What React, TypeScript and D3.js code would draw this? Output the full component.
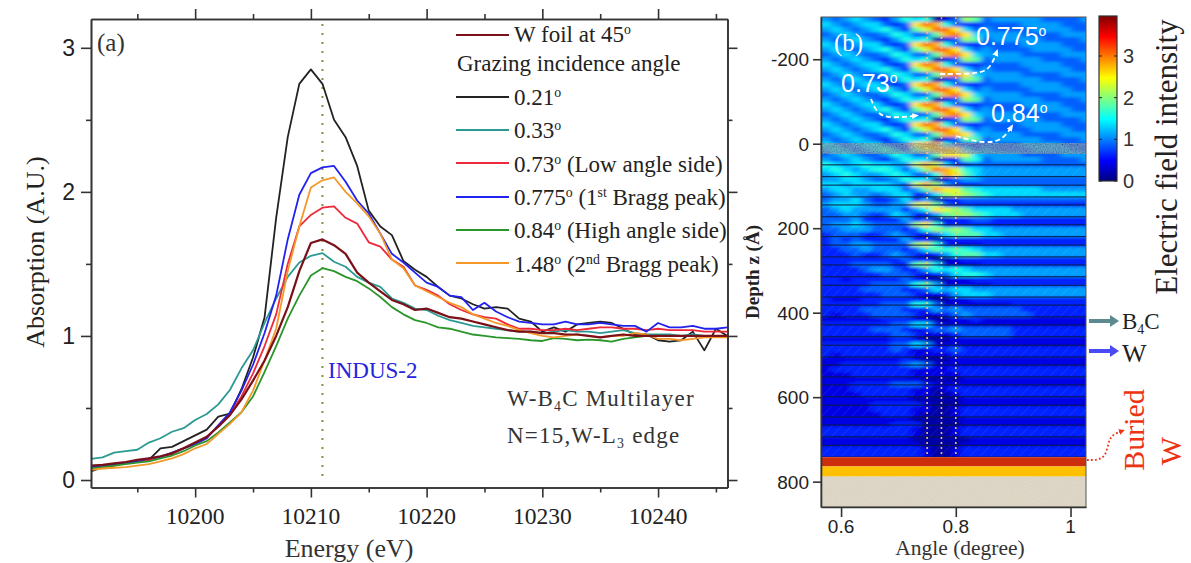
import React, { useEffect, useRef } from 'react';
import * as d3 from 'd3';

// energy grid, 10191 .. 10246 eV in 1 eV steps
const energies = [
  10191, 10192, 10193, 10194, 10195, 10196, 10197, 10198, 10199, 10200, 10201, 10202, 10203, 10204,
  10205, 10206, 10207, 10208, 10209, 10210, 10211, 10212, 10213, 10214, 10215, 10216, 10217, 10218,
  10219, 10220, 10221, 10222, 10223, 10224, 10225, 10226, 10227, 10228, 10229, 10230, 10231, 10232,
  10233, 10234, 10235, 10236, 10237, 10238, 10239, 10240, 10241, 10242, 10243, 10244, 10245, 10246,
];

const angle021 = [
  0.06, 0.09, 0.1, 0.12, 0.13, 0.14, 0.22, 0.23, 0.27, 0.31, 0.35, 0.44, 0.46, 0.63,
  0.85, 1.13, 1.82, 2.38, 2.75, 2.85, 2.75, 2.5, 2.38, 2.18, 1.87, 1.76, 1.7, 1.52,
  1.46, 1.41, 1.34, 1.28, 1.26, 1.22, 1.19, 1.2, 1.19, 1.12, 1.1, 1.03, 1.06, 1.03,
  1.08, 1.09, 1.1, 1.09, 1.05, 1.01, 1.01, 0.97, 0.96, 0.97, 1.03, 0.9, 1.05, 1.0,
];
const angle033 = [
  0.146, 0.157, 0.19, 0.2, 0.21, 0.26, 0.29, 0.335, 0.36, 0.417, 0.458, 0.525, 0.625, 0.775,
  0.9, 1.09, 1.26, 1.41, 1.51, 1.556, 1.575, 1.515, 1.48, 1.41, 1.37, 1.34, 1.26, 1.23,
  1.19, 1.18, 1.14, 1.11, 1.09, 1.07, 1.06, 1.05, 1.04, 1.03, 1.03, 1.02, 1.03, 1.04,
  1.03, 1.03, 1.02, 1.03, 1.04, 1.02, 1.01, 1.01, 1.01, 1.0, 1.01, 1.0, 1.0, 1.0,
];
const angle073 = [
  0.09, 0.1, 0.11, 0.12, 0.13, 0.14, 0.16, 0.18, 0.22, 0.25, 0.29, 0.38, 0.46, 0.58,
  0.74, 0.93, 1.15, 1.5, 1.76, 1.84, 1.89, 1.9, 1.82, 1.78, 1.65, 1.62, 1.53, 1.48,
  1.35, 1.32, 1.28, 1.22, 1.18, 1.15, 1.13, 1.12, 1.08, 1.05, 1.05, 1.04, 1.04, 1.05,
  1.04, 1.05, 1.06, 1.06, 1.05, 1.05, 1.04, 1.05, 1.04, 1.04, 1.04, 1.03, 1.03, 1.03,
];
const angle0775 = [
  0.09, 0.1, 0.11, 0.12, 0.13, 0.15, 0.16, 0.19, 0.22, 0.25, 0.29, 0.38, 0.47, 0.62,
  0.8, 1.02, 1.28, 1.67, 1.98, 2.13, 2.17, 2.18, 2.07, 1.94, 1.85, 1.71, 1.57, 1.51,
  1.44, 1.37, 1.34, 1.28, 1.27, 1.18, 1.23, 1.17, 1.13, 1.1, 1.09, 1.08, 1.08, 1.1,
  1.08, 1.08, 1.09, 1.08, 1.07, 1.07, 1.03, 1.09, 1.06, 1.06, 1.07, 1.05, 1.05, 1.06,
];
const angle084 = [
  0.08, 0.09, 0.1, 0.11, 0.12, 0.13, 0.15, 0.17, 0.2, 0.24, 0.27, 0.33, 0.4, 0.47,
  0.58, 0.75, 0.93, 1.12, 1.28, 1.42, 1.47, 1.45, 1.41, 1.38, 1.33, 1.27, 1.2, 1.15,
  1.11, 1.09, 1.06, 1.05, 1.03, 1.01, 1.0, 0.99, 0.985, 0.98, 0.97, 0.965, 0.985, 0.98,
  0.97, 0.975, 0.97, 0.96, 0.98, 0.99, 1.0, 1.0, 1.0, 1.0, 1.0, 1.0, 1.0, 1.0,
];
const angle148 = [
  0.07, 0.08, 0.085, 0.09, 0.1, 0.11, 0.13, 0.15, 0.18, 0.22, 0.25, 0.32, 0.39, 0.47,
  0.62, 0.83, 1.05, 1.45, 1.76, 2.03, 2.08, 2.1, 2.0, 1.92, 1.83, 1.71, 1.53, 1.47,
  1.35, 1.31, 1.27, 1.23, 1.2, 1.15, 1.12, 1.09, 1.07, 1.04, 1.02, 1.0, 0.99, 1.0,
  1.01, 1.0, 0.99, 1.0, 1.0, 1.02, 1.01, 0.98, 0.98, 0.97, 0.98, 0.99, 0.99, 0.99,
];
const tungstenFoil = [
  0.1, 0.105, 0.115, 0.125, 0.14, 0.15, 0.165, 0.185, 0.22, 0.26, 0.3, 0.37, 0.45, 0.56,
  0.69, 0.83, 1.0, 1.2, 1.45, 1.645, 1.67, 1.63, 1.57, 1.44, 1.37, 1.31, 1.25, 1.22,
  1.18, 1.19, 1.16, 1.13, 1.12, 1.1, 1.08, 1.06, 1.04, 1.03, 1.03, 1.02, 1.02, 1.01,
  1.01, 1.0, 0.99, 1.0, 1.01, 1.0, 1.0, 1.0, 1.0, 1.0, 1.0, 1.0, 1.0, 1.0,
];

const seriesColors = ['#222222', '#2a9a92', '#ee2a3a', '#2222ee', '#2a962a', '#f4982a', '#7a1018'];

// field intensity, one hex digit per cell (0.15 + digit x 0.24), rows from the top of the map
const fieldRows = [
  '434543246 5601387 34444433334', '543455323 acb6322 33334444333', '454345642 79cca53 43333444433', '345433465 337bca5 44443333444',
  '434543246 5601387 34444433334', '543455323 acb6322 33334444333', '454345642 79cca53 43333444433', '345433465 337bca5 44443333444',
  '434543246 5601387 34444433334', '543455323 acb6322 33334444333', '454345642 79cca53 43333444433', '345433465 337bca5 44443333444',
  '434543246 5601387 34444433334', '543455323 acb6322 33334444333', '454345642 79cca53 43333444433', '345433465 337bca5 44443333444',
  '434543246 5601387 34444433334', '543455323 acb6322 33334444333', '454345642 79cca53 43333444433', '345433465 337bca5 44443333444',
  '434543246 5601387 34444433334', '543455323 acb6322 33334444333', '454345642 79cca53 43333444433', '345433465 337bba5 44443333444',
  '434543246 5601377 34444433334', '543455323 abb6322 33334444333', '454345642 79bba53 43333444433', '345433465 337aa95 44443333444',
  '434543246 5501276 34444433334',
  '654565544 9b95223 33333333333', '565456653 58cb965 44444444444', '456544565 336ba75 44444444444', '445543346 5501344 33333333333',
  '554555543 9b84222 33333333333', '455445553 47ba976 55555544444', '345443455 2258987 65555555555', '344532235 2401233 33333333333',
  '455543344 9a73222 22222222222', '345444442 46a9875 55544444444', '334432354 2147887 65554444444', '333422224 2301223 32222222222',
  '344543333 8a62222 22222222222', '334443332 3687875 54444444444', '233322343 2135777 55444444444', '232322224 2201222 22222222222',
  '233443333 8962111 22222222222', '223343332 3576765 44444444444', '222322343 2124677 55444444444', '222222223 2200122 22222222222',
  '222333322 7851111 22222222222', '222234432 2465654 44444444444', '222222333 2123566 54444444444', '221222223 2100112 22222222222',
  '222223333 6741111 12222222222', '222233332 2354554 44444444444', '222222333 2112455 54444444444', '211122222 2100112 22222222222',
  '222222333 6631111 11122222222', '222233332 2243433 33332222222', '212223333 2112343 33333222222', '111111222 1100112 11111111111',
  '222222233 5521111 11111111111', '222223332 1233433 33322222222', '222222233 2111233 33322222222', '111111122 1000111 11111111111',
  '222222233 5411111 11111111111', '222222232 1122322 22222222222', '212222222 1111222 22222222222', '111111112 1000111 11111111111',
  '112222223 4311111 11111111111', '122222222 1111222 22222222222', '111222222 1111122 22222222222', '111111111 1000011 11111111111',
  '111222233 3211111 11111111111', '111222222 1101222 22222222222', '111122222 1100122 22222222222', '111111111 0000011 11111111111',
  '111112222 2100011 11111111111', '111112222 1100122 22222222222', '111111222 1000122 22222222222', '111111111 0000011 11111111111',
  '111111122 2000011 11111111111', '222222222 1000122 22222222222', '222222222 1000122 22222222222', '111111111 0000001 11111111111',
  '111111111 1000011 11111111111', '222222222 2100122 22222222222', '222222222 2100122 22222222222',
];

// B4C layers, top depth in Angstrom; each one is 28 A thick
const b4cTops = [50, 98, 145, 192, 240, 287, 335, 382, 429, 477, 524, 571, 619, 666, 714];
const b4cThickness = 28;
const braggAngles = [0.75, 0.775, 0.8];
const jetStops = ['#00007f', '#0000ff', '#0080ff', '#00ffff', '#80ff80', '#ffff00', '#ff8000', '#ff0000', '#7f0000'];

const SERIF = '"Liberation Serif", serif';
const SANS = '"Liberation Sans", sans-serif';

function addText(sel: any, x: number, y: number, parts: [string, boolean?][], opts: any = {}) {
  // parts: [text, isSuperOrSubscript]; opts.sub moves the small parts down instead of up
  const t = sel.append('text')
    .attr('x', x).attr('y', y)
    .attr('font-family', opts.family || SERIF)
    .attr('font-size', opts.size || 20)
    .attr('fill', opts.fill || '#222')
    .attr('font-weight', opts.weight || 'normal')
    .attr('text-anchor', opts.anchor || 'start');
  if (opts.spacing) t.attr('letter-spacing', opts.spacing);
  if (opts.rotate) t.attr('transform', `rotate(-90 ${x} ${y})`);
  const shift = opts.sub ? 5 : -8;
  let prevSmall = false;
  parts.forEach(([s, small]) => {
    const sp = t.append('tspan').text(s);
    if (small) {
      sp.attr('font-size', (opts.size || 20) * 0.6).attr('dy', shift);
    } else if (prevSmall) {
      sp.attr('dy', -shift);
    }
    prevSmall = !!small;
  });
  return t;
}

const App = () => {
  const svgRef = useRef<SVGSVGElement>(null);

  useEffect(() => {
    const svg = d3.select(svgRef.current);
    svg.selectAll('*').remove();
    const defs = svg.append('defs');

    // ---- panel (a)
    const x = d3.scaleLinear().domain([10191, 10246]).range([91, 727.5]);
    const y = d3.scaleLinear().domain([-0.052, 3.2]).range([487.5, 19]);
    const a = svg.append('g');

    const line = d3.line<number>()
      .x((_, i) => x(energies[i]))
      .y(d => y(d));

    a.append('line')
      .attr('x1', x(10211)).attr('x2', x(10211))
      .attr('y1', 24).attr('y2', 477)
      .attr('stroke', '#8c8c40').attr('stroke-width', 2).attr('stroke-dasharray', '2 7');

    [angle021, angle033, angle073, angle0775, angle084, angle148, tungstenFoil].forEach((vals, i) => {
      a.append('path')
        .attr('d', line(vals))
        .attr('fill', 'none')
        .attr('stroke', seriesColors[i])
        .attr('stroke-width', i === 6 ? 2.2 : 1.8)
        .attr('stroke-linejoin', 'round');
    });

    const majorX = [10200, 10210, 10220, 10230, 10240];
    const minorX = [10195, 10205, 10215, 10225, 10235, 10245];
    const majorY = [0, 1, 2, 3];
    const minorY = [0.5, 1.5, 2.5];
    const styleAxis = (g: any, color = '#333', w = 1.6) => {
      g.selectAll('path').attr('stroke', color).attr('stroke-width', w);
      g.selectAll('line').attr('stroke', color).attr('stroke-width', w);
      g.selectAll('text').remove();
    };
    const axisAt = (gen: any, tx: number, ty: number, root: any = a) => {
      const g = root.append('g').attr('transform', `translate(${tx},${ty})`).call(gen);
      styleAxis(g);
      return g;
    };
    axisAt(d3.axisBottom(x).tickValues(majorX).tickSize(10).tickSizeOuter(0), 0, 487.5);
    axisAt(d3.axisBottom(x).tickValues(minorX).tickSize(5).tickSizeOuter(0), 0, 487.5);
    axisAt(d3.axisTop(x).tickValues(majorX).tickSize(10).tickSizeOuter(0), 0, 19);
    axisAt(d3.axisTop(x).tickValues(minorX).tickSize(5).tickSizeOuter(0), 0, 19);
    axisAt(d3.axisLeft(y).tickValues(majorY).tickSize(10).tickSizeOuter(0), 91, 0);
    axisAt(d3.axisLeft(y).tickValues(minorY).tickSize(5).tickSizeOuter(0), 91, 0);
    axisAt(d3.axisRight(y).tickValues(majorY).tickSize(10).tickSizeOuter(0), 727.5, 0);
    axisAt(d3.axisRight(y).tickValues(minorY).tickSize(5).tickSizeOuter(0), 727.5, 0);

    majorX.forEach(v => {
      addText(a, x(v), 524, [[String(v)]], { size: 23.5, anchor: 'middle' });
    });
    majorY.forEach(v => {
      addText(a, 75, y(v) + 8, [[String(v)]], { size: 23, anchor: 'end', family: SANS });
    });
    addText(a, 349, 557, [['Energy (eV)']], { size: 26, anchor: 'middle', fill: '#333' });
    addText(a, 44, 252, [['Absorption (A.U.)']], { size: 26, anchor: 'middle', rotate: true });
    addText(a, 97, 51, [['(a)']], { size: 25, fill: '#333' });
    addText(a, 328, 378, [['INDUS-2']], { size: 23, fill: '#2525dd' });
    addText(a, 507, 406, [['W-B'], ['4', true], ['C Multilayer']], { size: 23, sub: true, spacing: 1.2, fill: '#333' });
    addText(a, 507, 443, [['N=15,W-L'], ['3', true], [' edge']], { size: 23, sub: true, spacing: 1.2, fill: '#333' });

    // legend
    const legendRows: { c: string; ly: number; base: number; parts: [string, boolean?][] }[] = [
      { c: seriesColors[6], ly: 35, base: 42, parts: [['W foil at 45'], ['o', true]] },
      { c: seriesColors[0], ly: 97, base: 105, parts: [['0.21'], ['o', true]] },
      { c: seriesColors[1], ly: 130, base: 138, parts: [['0.33'], ['o', true]] },
      { c: seriesColors[2], ly: 163, base: 172, parts: [['0.73'], ['o', true], [' (Low angle side)']] },
      { c: seriesColors[3], ly: 197, base: 205, parts: [['0.775'], ['o', true], [' (1'], ['st', true], [' Bragg peak)']] },
      { c: seriesColors[4], ly: 230, base: 238, parts: [['0.84'], ['o', true], [' (High angle side)']] },
      { c: seriesColors[5], ly: 263, base: 272, parts: [['1.48'], ['o', true], [' (2'], ['nd', true], [' Bragg peak)']] },
    ];
    legendRows.forEach(r => {
      a.append('line').attr('x1', 456).attr('x2', 509).attr('y1', r.ly).attr('y2', r.ly)
        .attr('stroke', r.c).attr('stroke-width', 1.8);
      addText(a, 514, r.base, r.parts, { size: 23 });
    });
    addText(a, 457, 71, [['Grazing incidence angle']], { size: 23 });

    // ---- panel (b)
    const ax = d3.scaleLinear().domain([0.565, 1.027]).range([821, 1086]);
    const dz = d3.scaleLinear().domain([-300, 860]).range([17, 507]);
    const b = svg.append('g');

    const levels = jetStops.map((_, i) => (3.96 * i) / (jetStops.length - 1));
    const jet = d3.scaleLinear<string>().domain(levels).range(jetStops).clamp(true);

    const grid = fieldRows.map(r => Array.from(r.replace(/ /g, '')).map(ch => 0.15 + parseInt(ch, 16) * 0.24));
    const colBand = d3.scaleBand<number>().domain(d3.range(27)).range([821, 1091]);
    const rowBand = d3.scaleBand<number>().domain(d3.range(grid.length)).range([17, 457]);

    defs.append('clipPath').attr('id', 'map-clip').append('rect')
      .attr('x', 821).attr('y', 17).attr('width', 265).attr('height', 440);
    defs.append('filter').attr('id', 'soft')
      .attr('filterUnits', 'userSpaceOnUse')
      .attr('x', 790).attr('y', 0).attr('width', 320).attr('height', 480)
      .append('feGaussianBlur').attr('stdDeviation', '3 1.6');

    const noise = defs.append('filter').attr('id', 'grain')
      .attr('x', 0).attr('y', 0).attr('width', 1).attr('height', 1);
    noise.append('feTurbulence').attr('type', 'fractalNoise').attr('baseFrequency', 0.9).attr('numOctaves', 2).attr('seed', 4);
    noise.append('feColorMatrix').attr('values', '0.4 0.4 0 0 -0.1  0.4 0.4 0 0 -0.1  0.4 0.4 0 0 -0.1  0 0 0 0 0.6');

    const mapClip = b.append('g').attr('clip-path', 'url(#map-clip)');
    mapClip.append('rect').attr('x', 821).attr('y', 17).attr('width', 265).attr('height', 440).attr('fill', '#1a70d8');
    const cells = mapClip.append('g').attr('filter', 'url(#soft)');
    grid.forEach((row, ri) => {
      row.forEach((v, ci) => {
        const grow = ci === 0 ? 10 : 0;
        const up = ri === 0 ? 10 : 0;
        const down = ri === grid.length - 1 ? 10 : 0;
        cells.append('rect')
          .attr('x', colBand(ci)! - grow)
          .attr('y', rowBand(ri)! - up)
          .attr('width', colBand.bandwidth() + grow + 0.5)
          .attr('height', rowBand.bandwidth() + up + down + 0.5)
          .attr('fill', jet(v));
      });
    });

    // hatching in the B4C layers
    const hatch = defs.append('pattern').attr('id', 'hatch')
      .attr('width', 7).attr('height', 7).attr('patternUnits', 'userSpaceOnUse')
      .attr('patternTransform', 'rotate(45)');
    hatch.append('line').attr('x1', 0).attr('x2', 0).attr('y1', 0).attr('y2', 7)
      .attr('stroke', '#ffffff').attr('stroke-opacity', 0.07).attr('stroke-width', 2);

    b4cTops.forEach(t => {
      mapClip.append('rect')
        .attr('x', 821).attr('width', 265)
        .attr('y', dz(t)).attr('height', dz(t + b4cThickness) - dz(t))
        .attr('fill', 'url(#hatch)');
      [t, t + b4cThickness].forEach(d => {
        mapClip.append('line')
          .attr('x1', 821).attr('x2', 1086).attr('y1', dz(d)).attr('y2', dz(d))
          .attr('stroke', '#0a1a40').attr('stroke-width', 1);
      });
    });

    // surface roughness band, buried W layer and substrate
    b.append('rect').attr('x', 821).attr('width', 265).attr('y', dz(0)).attr('height', dz(24) - dz(0))
      .attr('filter', 'url(#grain)');
    b.append('rect').attr('x', 821).attr('width', 265).attr('y', dz(742)).attr('height', dz(764) - dz(742)).attr('fill', '#cc2e0c');
    b.append('rect').attr('x', 821).attr('width', 265).attr('y', dz(764)).attr('height', dz(788) - dz(764)).attr('fill', '#ffc000');
    b.append('rect').attr('x', 821).attr('width', 265).attr('y', dz(788)).attr('height', dz(860) - dz(788)).attr('fill', '#e4dcca');
    b.append('rect').attr('x', 821).attr('width', 265).attr('y', dz(788)).attr('height', dz(860) - dz(788))
      .attr('filter', 'url(#grain)').attr('opacity', 0.15);

    braggAngles.forEach(v => {
      b.append('line').attr('x1', ax(v)).attr('x2', ax(v)).attr('y1', 17).attr('y2', 457)
        .attr('stroke', '#f2c070').attr('stroke-width', 1.6).attr('stroke-dasharray', '2 3');
    });

    b.append('rect').attr('x', 821).attr('y', 17).attr('width', 265).attr('height', 490)
      .attr('fill', 'none').attr('stroke', '#555').attr('stroke-width', 1);

    const depthTicks = [-200, 0, 200, 400, 600, 800];
    const angleTicks = [0.6, 0.8, 1];
    axisAt(d3.axisLeft(dz).tickValues(depthTicks).tickSize(8).tickSizeOuter(0), 821, 0, b);
    axisAt(d3.axisBottom(ax).tickValues(angleTicks).tickSize(10).tickSizeOuter(0), 0, 507, b);
    depthTicks.forEach(v => {
      addText(b, 809, dz(v) + 7, [[String(v)]], { size: 19, anchor: 'end', family: SANS });
    });
    angleTicks.forEach(v => {
      addText(b, ax(v), 533, [[String(v)]], { size: 19, anchor: 'middle', family: SANS });
    });
    addText(b, 960, 555, [['Angle (degree)']], { size: 21.5, anchor: 'middle', fill: '#333' });
    addText(b, 759, 272, [['Depth z (Å)']], { size: 19, anchor: 'middle', rotate: true, weight: 'bold' });

    // annotations on the map
    addText(b, 834, 51, [['(b)']], { size: 25, fill: '#ffffff' });
    const whiteLabel = (lx: number, ly: number, s: string) => {
      const t = addText(b, lx, ly, [[s]], { size: 25, fill: '#ffffff', family: SANS });
      t.append('tspan').text('o').attr('font-size', 14).attr('dy', -9);
    };
    whiteLabel(841, 92, '0.73');
    whiteLabel(976, 45, '0.775');
    whiteLabel(991, 122, '0.84');

    const curve = d3.line<[number, number]>().curve(d3.curveBasis);
    const arrowHead = defs.append('marker').attr('id', 'tip-white')
      .attr('markerWidth', 10).attr('markerHeight', 10).attr('refX', 5).attr('refY', 3)
      .attr('orient', 'auto').attr('markerUnits', 'userSpaceOnUse');
    arrowHead.append('path').attr('d', 'M0,0 L7,3 L0,6 Z').attr('fill', '#ffffff');
    const redHead = defs.append('marker').attr('id', 'tip-red')
      .attr('markerWidth', 8).attr('markerHeight', 8).attr('refX', 3).attr('refY', 3)
      .attr('orient', 'auto').attr('markerUnits', 'userSpaceOnUse');
    redHead.append('path').attr('d', 'M0,0 L6,3 L0,6 Z').attr('fill', '#ee3311');

    const arrows: [number, number][][] = [
      [[871, 99], [878, 116], [895, 118], [917, 115.5]],
      [[940, 74], [975, 74], [990, 70], [997, 51]],
      [[956, 136], [985, 144], [1003, 140], [1012, 126]],
    ];
    arrows.forEach(pts => {
      b.append('path').attr('d', curve(pts))
        .attr('fill', 'none').attr('stroke', '#ffffff').attr('stroke-width', 1.8)
        .attr('stroke-dasharray', '5 3').attr('marker-end', 'url(#tip-white)');
    });

    // layer labels to the right of the map
    b.append('line').attr('x1', 1089).attr('x2', 1111).attr('y1', 321).attr('y2', 321)
      .attr('stroke', '#5b8a90').attr('stroke-width', 4);
    b.append('path').attr('d', 'M1110,315 L1119,321 L1110,327 Z').attr('fill', '#5b8a90');
    b.append('line').attr('x1', 1089).attr('x2', 1111).attr('y1', 351).attr('y2', 351)
      .attr('stroke', '#4a4af5').attr('stroke-width', 4);
    b.append('path').attr('d', 'M1110,345 L1119,351 L1110,357 Z').attr('fill', '#4a4af5');
    addText(b, 1122, 329, [['B'], ['4', true], ['C']], { size: 23, sub: true });
    addText(b, 1122, 362, [['W']], { size: 26 });

    addText(b, 1144, 430, [['Buried']], { size: 30, anchor: 'middle', rotate: true, fill: '#ee3311' });
    addText(b, 1181, 451, [['W']], { size: 30, anchor: 'middle', rotate: true, fill: '#ee3311' });
    b.append('path').attr('d', curve([[1087, 460], [1107, 460], [1108, 436], [1122, 431]]))
      .attr('fill', 'none').attr('stroke', '#ee3311').attr('stroke-width', 1.8)
      .attr('stroke-dasharray', '1.8 2.2').attr('marker-end', 'url(#tip-red)');

    // ---- colour bar
    const barY = d3.scaleLinear().domain([0, 3.96]).range([181, 16]);
    const grad = defs.append('linearGradient').attr('id', 'jet-bar')
      .attr('x1', 0).attr('x2', 0).attr('y1', 1).attr('y2', 0);
    jetStops.forEach((c, i) => {
      grad.append('stop').attr('offset', i / (jetStops.length - 1)).attr('stop-color', c);
    });
    b.append('rect').attr('x', 1099).attr('y', 16).attr('width', 18).attr('height', 165)
      .attr('fill', 'url(#jet-bar)').attr('stroke', '#333').attr('stroke-width', 1.2);
    const barTicks = [0, 1, 2, 3];
    barTicks.forEach(v => {
      b.append('line').attr('x1', 1099).attr('x2', 1102).attr('y1', barY(v)).attr('y2', barY(v)).attr('stroke', '#222');
      b.append('line').attr('x1', 1114).attr('x2', 1117).attr('y1', barY(v)).attr('y2', barY(v)).attr('stroke', '#222');
      addText(b, 1123, barY(v) + 7, [[String(v)]], { size: 20, family: SANS, fill: '#333' });
    });
    addText(b, 1177, 157, [['Electric field intensity']], { size: 31, anchor: 'middle', rotate: true });
  }, []);

  return (
    <svg
      ref={svgRef}
      width={1191}
      height={563}
      style={{ position: 'absolute', left: 0, top: 0, background: '#ffffff' }}
    />
  );
};

export default App;
